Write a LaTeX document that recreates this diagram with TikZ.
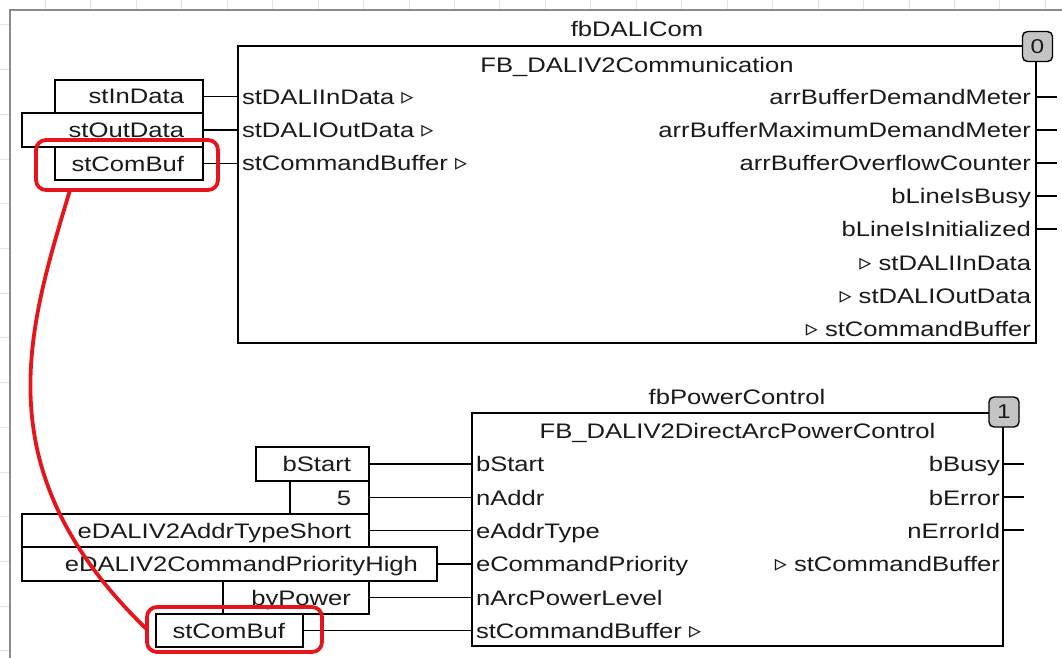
\documentclass[tikz,border=0pt]{standalone}
\usepackage{fontspec}
\setmainfont[FakeStretch=1.22]{Liberation Sans}
\newfontfamily\symfnt{DejaVu Sans}
\newcommand{\ptri}{{\symfnt\fontsize{24}{24}\selectfont ▹}}
\definecolor{hlred}{HTML}{E8141C}
\definecolor{badgegray}{HTML}{C4C4C4}
\definecolor{gridc}{HTML}{E4E4E4}
\definecolor{framegray}{HTML}{8A8A8A}
\definecolor{txt}{HTML}{1A1A1A}
\begin{document}
\begin{tikzpicture}[x=1pt,y=-1pt,
  every node/.style={font=\fontsize{21}{21}\selectfont, text=txt, inner sep=0pt, outer sep=0pt},
  iobox/.style={draw=black, line width=1.4pt, anchor=north west},
  blk/.style={draw=black, line width=1.6pt, anchor=north west},
  wire/.style={line width=1.4pt},
  lblw/.style={anchor=base west},
  lble/.style={anchor=base east},
  lblc/.style={anchor=base},
  hl/.style={draw=hlred, line width=3.8pt, rounded corners=10pt, anchor=north west},
  hlwire/.style={draw=hlred, line width=3.8pt},
  badge/.style={draw=black, line width=1.4pt, fill=badgegray, rounded corners=5pt, minimum width=30pt, minimum height=30pt, font=\fontsize{20}{20}\selectfont}]
\useasboundingbox (0,0) rectangle (1062,658);
\clip (0,0) rectangle (1062,658);
% background grid and frame
\fill[white] (0,0) rectangle (1062,658);
\foreach \i in {1,...,23} \draw[gridc, line width=1pt] (\i*45.45,0) -- (\i*45.45,658);
\foreach \j in {0,...,14} \draw[gridc, line width=1pt] (0,25+\j*44.7) -- (1062,25+\j*44.7);
\draw[framegray, line width=2pt, fill=white] (10,10) rectangle (1080,680);

% ===== top block =====
\node[lblc] (tA) at (637,36.5) {fbDALICom};
\node[blk, minimum width=798pt, minimum height=297pt] (fbA) at (238,46) {};
\node[lblc] (tAtype) at (637,72.5) {FB\_DALIV2Communication};
\node[badge] (badge0) at (1037.5,46.5) {0};

\node[lblw] (ain1) at (242,104.5) {stDALIInData \ptri};
\node[lblw] (ain2) at (242,137.5) {stDALIOutData \ptri};
\node[lblw] (ain3) at (242,170.5) {stCommandBuffer \ptri};

\node[lble] (aout1) at (1031,104.5) {arrBufferDemandMeter};
\node[lble] (aout2) at (1031,137.5) {arrBufferMaximumDemandMeter};
\node[lble] (aout3) at (1031,170.5) {arrBufferOverflowCounter};
\node[lble] (aout4) at (1031,203.5) {bLineIsBusy};
\node[lble] (aout5) at (1031,236.5) {bLineIsInitialized};
\node[lble] (aout6) at (1031,270.5) {\ptri\ stDALIInData};
\node[lble] (aout7) at (1031,303.5) {\ptri\ stDALIOutData};
\node[lble] (aout8) at (1031,336.5) {\ptri\ stCommandBuffer};

\foreach \r/\y in {1/97,2/130,3/163,4/196,5/229}{
  \coordinate (ao\r) at (1057,\y);
  \draw[wire] (fbA.east |- ao\r) -- (ao\r);
}

% top inputs
\node[iobox, minimum width=148pt, minimum height=33pt] (bInData) at (55,80) {};
\node[iobox, minimum width=181pt, minimum height=34pt] (bOutData) at (22,113) {};
\node[iobox, minimum width=148pt, minimum height=33pt] (bComBufA) at (55,147) {};
\node[lble] (tInData) at ([xshift=-19pt,yshift=-7.5pt]bInData.east) {stInData};
\node[lble] (tOutData) at ([xshift=-19pt,yshift=-7.5pt]bOutData.east) {stOutData};
\node[lble] (tComBufA) at ([xshift=-19pt,yshift=-7.5pt]bComBufA.east) {stComBuf};
\draw[wire] (bInData.east) -- (bInData.east -| fbA.west);
\draw[wire] (bOutData.east) -- (bOutData.east -| fbA.west);
\draw[wire] (bComBufA.east) -- (bComBufA.east -| fbA.west);

% ===== bottom block =====
\node[lblc] (tB) at (737,404.5) {fbPowerControl};
\node[blk, minimum width=531pt, minimum height=233pt] (fbB) at (472,413) {};
\node[lblc] (tBtype) at (737.5,438.5) {FB\_DALIV2DirectArcPowerControl};
\node[badge] (badge1) at (1004,412) {1};

\node[lblw] (bin1) at (476,471.5) {bStart};
\node[lblw] (bin2) at (476,505) {nAddr};
\node[lblw] (bin3) at (476,538) {eAddrType};
\node[lblw] (bin4) at (476,571.5) {eCommandPriority};
\node[lblw] (bin5) at (476,605) {nArcPowerLevel};
\node[lblw] (bin6) at (476,638) {stCommandBuffer \ptri};

\node[lble] (bout1) at (1000,471.5) {bBusy};
\node[lble] (bout2) at (1000,505) {bError};
\node[lble] (bout3) at (1000,538) {nErrorId};
\node[lble] (bout4) at (1000,571.5) {\ptri\ stCommandBuffer};
\foreach \r/\y in {1/464,2/497,3/530}{
  \coordinate (bo\r) at (1024,\y);
  \draw[wire] (fbB.east |- bo\r) -- (bo\r);
}

% bottom inputs
\node[iobox, minimum width=113pt, minimum height=34pt] (bStartB) at (256,447) {};
\node[iobox, minimum width=79pt, minimum height=33pt] (bFive) at (290,481) {};
\node[iobox, minimum width=347pt, minimum height=33pt] (bAddr) at (22,514) {};
\node[iobox, minimum width=415pt, minimum height=34pt] (bPrio) at (22,547) {};
\node[iobox, minimum width=146pt, minimum height=33pt] (bPower) at (223,581) {};
\node[iobox, minimum width=147pt, minimum height=33pt] (bComBufB) at (156,614) {};
\node[lble] (tStart) at ([xshift=-18pt,yshift=-7.5pt]bStartB.east) {bStart};
\node[lble] (tFive) at ([xshift=-18pt,yshift=-7.5pt]bFive.east) {5};
\node[lble] (tAddr) at ([xshift=-18pt,yshift=-7.5pt]bAddr.east) {eDALIV2AddrTypeShort};
\node[lble] (tPrio) at ([xshift=-19pt,yshift=-7.5pt]bPrio.east) {eDALIV2CommandPriorityHigh};
\node[lble] (tPower) at ([xshift=-18pt,yshift=-7.5pt]bPower.east) {byPower};
\node[lble] (tComBufB) at ([xshift=-18pt,yshift=-7.5pt]bComBufB.east) {stComBuf};
\draw[wire] (bStartB.east) -- (bStartB.east -| fbB.west);
\draw[wire] (bFive.east) -- (bFive.east -| fbB.west);
\draw[wire] (bAddr.east) -- (bAddr.east -| fbB.west);
\draw[wire] (bPrio.east) -- (bPrio.east -| fbB.west);
\draw[wire] (bPower.east) -- (bPower.east -| fbB.west);
\draw[wire] (bComBufB.east) -- (bComBufB.east -| fbB.west);

% ===== red highlights =====
\node[hl, minimum width=182pt, minimum height=50pt] (redTop) at (36,140) {};
\node[hl, minimum width=175pt, minimum height=45pt] (redBot) at (147,607) {};
\draw[hlwire] ([xshift=-57pt]redTop.south) .. controls (28,330) and (-18,470) .. (redBot.west);
\end{tikzpicture}
\end{document}
